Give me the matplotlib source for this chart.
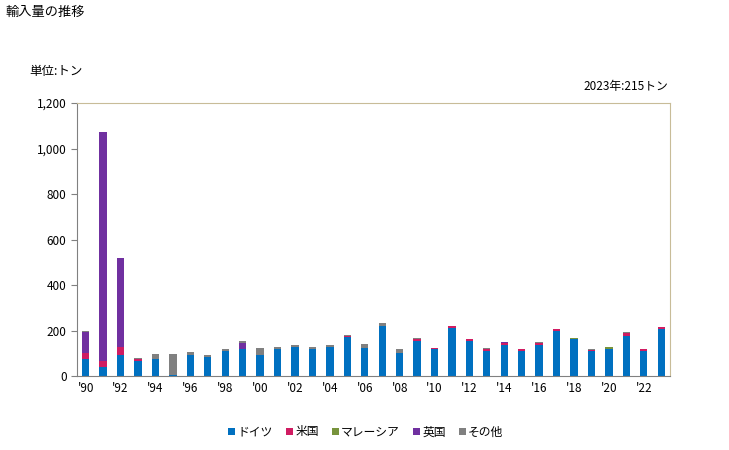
import numpy as np
import matplotlib.pyplot as plt
from matplotlib.ticker import FuncFormatter

plt.rcParams['font.family'] = ['Noto Sans CJK JP', 'DejaVu Sans']

years = list(range(1990, 2024))

# tons per year
germany = [76, 41, 91, 64, 73, 5, 91, 82, 108, 117,
           91, 117, 126, 117, 126, 170, 121, 222, 99, 156,
           117, 213, 155, 111, 137, 111, 137, 199, 161, 108,
           117, 178, 111, 207]
usa = [26, 23, 35, 12, 4, 0, 0, 0, 3, 0,
       0, 0, 0, 0, 0, 4, 0, 0, 0, 6,
       4, 9, 9, 7, 9, 9, 9, 9, 3, 7,
       0, 12, 6, 8]
malaysia = [0, 0, 0, 0, 0, 0, 0, 0, 0, 0,
            0, 0, 0, 0, 0, 0, 0, 0, 0, 0,
            0, 0, 0, 0, 0, 0, 0, 0, 4, 0,
            9, 0, 0, 0]
uk = [92, 1010, 394, 0, 0, 0, 0, 0, 0, 26,
      0, 0, 0, 0, 0, 0, 0, 0, 0, 0,
      0, 0, 0, 0, 4, 0, 0, 0, 0, 0,
      3, 0, 3, 0]
other = [4, 0, 0, 5, 18, 90, 13, 9, 9, 13,
         31, 9, 9, 9, 9, 8, 18, 13, 18, 3,
         0, 0, 0, 6, 0, 0, 4, 0, 0, 4,
         0, 4, 0, 0]

series = [("ドイツ", germany, "#0070c0"),
          ("米国", usa, "#d01c62"),
          ("マレーシア", malaysia, "#77933c"),
          ("英国", uk, "#7030a0"),
          ("その他", other, "#808080")]

fig = plt.figure(figsize=(7.29, 4.5), dpi=100)
ax = fig.add_axes([0.1056, 0.1644, 0.8134, 0.6066])

bottom = np.zeros(len(years))
for name, vals, color in series:
    ax.bar(years, vals, width=0.42, bottom=bottom, color=color, label=name)
    bottom += np.array(vals)

ax.set_xlim(1989.5, 2023.5)
ax.set_ylim(0, 1200)
ax.set_yticks(range(0, 1201, 200))
ax.yaxis.set_major_formatter(FuncFormatter(lambda v, p: f"{int(v):,}"))
ax.set_xticks(years[::2])
ax.set_xticklabels([f"'{y % 100:02d}" for y in years[::2]])
ax.tick_params(axis='x', length=0, labelsize=8.5, pad=4)
ax.tick_params(axis='y', length=4, color='#808080', labelsize=8.5)

for s in ['left', 'bottom']:
    ax.spines[s].set_color('#808080')
for s in ['top', 'right']:
    ax.spines[s].set_color('#c8bc98')

fig.text(0.007, 0.972, "輸入量の推移", fontsize=9.5, va='center')
fig.text(0.040, 0.84, "単位:トン", fontsize=9, va='center')
fig.text(0.917, 0.808, "2023年:215トン", fontsize=8.5, va='center', ha='right')

ax.legend(loc='center', bbox_to_anchor=(0.487, -0.205), ncol=5, frameon=False,
          fontsize=8.5, handlelength=0.6, handleheight=0.6, handletextpad=0.2,
          columnspacing=1.1)

fig.savefig("out.png", dpi=100)
